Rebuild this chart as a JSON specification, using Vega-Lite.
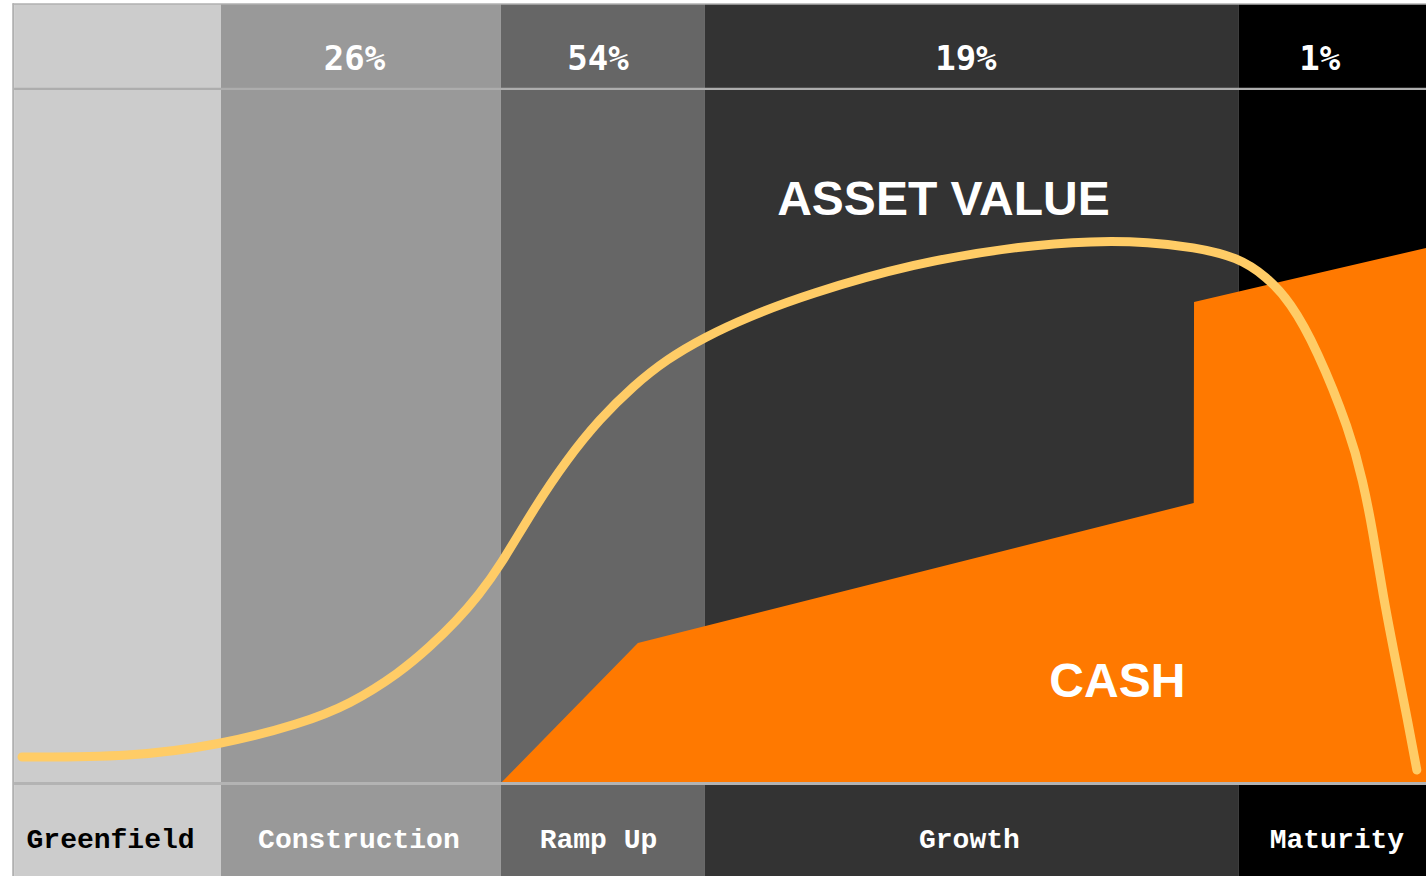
{
  "$schema": "https://vega.github.io/schema/vega-lite/v6.json",
  "width": 1426,
  "height": 876,
  "autosize": {"type": "none"},
  "padding": 0,
  "background": "white",
  "config": {"view": {"stroke": null}},
  "datasets": {
    "phases": [
      {"phase": "Greenfield", "start": 0, "end": 14.65, "share": "", "labelX": 6.83, "shareX": 7.3},
      {"phase": "Construction", "start": 14.65, "end": 34.48, "share": "26%", "labelX": 24.42, "shareX": 24.11},
      {"phase": "Ramp Up", "start": 34.48, "end": 48.93, "share": "54%", "labelX": 41.39, "shareX": 41.35},
      {"phase": "Growth", "start": 48.93, "end": 86.75, "share": "19%", "labelX": 67.66, "shareX": 67.41},
      {"phase": "Maturity", "start": 86.75, "end": 100, "share": "1%", "labelX": 93.69, "shareX": 92.48}
    ],
    "cash": [
      {"t": 34.48, "v": 0},
      {"t": 44.18, "v": 20.14},
      {"t": 83.55, "v": 40.29},
      {"t": 83.57, "v": 69.21},
      {"t": 100, "v": 76.98}
    ],
    "asset": [
      {"t": 0.56, "v": 3.74},
      {"t": 8.21, "v": 3.74},
      {"t": 14.58, "v": 5.47},
      {"t": 20.25, "v": 8.49},
      {"t": 23.79, "v": 11.3},
      {"t": 27.33, "v": 15.9},
      {"t": 29.45, "v": 19.6},
      {"t": 31.37, "v": 23.4},
      {"t": 32.9, "v": 27.0},
      {"t": 34.41, "v": 31.2},
      {"t": 36.75, "v": 39.3},
      {"t": 39.16, "v": 46.6},
      {"t": 41.49, "v": 52.4},
      {"t": 43.83, "v": 57.1},
      {"t": 46.24, "v": 61.0},
      {"t": 48.93, "v": 64.17},
      {"t": 51.9, "v": 67.0},
      {"t": 56.15, "v": 70.3},
      {"t": 63.73, "v": 74.8},
      {"t": 71.31, "v": 77.3},
      {"t": 76.41, "v": 78.0},
      {"t": 80.44, "v": 77.84},
      {"t": 83.49, "v": 77.12},
      {"t": 86.68, "v": 75.68},
      {"t": 88.73, "v": 72.81},
      {"t": 90.36, "v": 69.3},
      {"t": 92.27, "v": 62.5},
      {"t": 94.61, "v": 50.6},
      {"t": 95.53, "v": 43.5},
      {"t": 96.24, "v": 36.2},
      {"t": 96.95, "v": 27.0},
      {"t": 97.94, "v": 16.69},
      {"t": 98.65, "v": 9.5},
      {"t": 99.35, "v": 1.87}
    ],
    "notes": [
      {"text": "ASSET VALUE", "t": 65.82, "v": 81.73},
      {"text": "CASH", "t": 78.14, "v": 12.37}
    ],
    "one": [{}]
  },
  "resolve": {"scale": {"color": "independent"}},
  "layer": [
    {
      "data": {"name": "phases"},
      "mark": {"type": "rect"},
      "encoding": {
        "x": {"field": "start", "type": "quantitative", "scale": {"domain": [-1, 100], "nice": false, "zero": false}, "axis": null},
        "x2": {"field": "end"},
        "y": {"datum": 112.09, "type": "quantitative", "scale": {"domain": [-13.38, 112.66], "nice": false, "zero": false}, "axis": null},
        "y2": {"datum": -13.38},
        "color": {
          "field": "phase", "type": "nominal", "legend": null,
          "scale": {"domain": ["Greenfield", "Construction", "Ramp Up", "Growth", "Maturity"], "range": ["#cccccc", "#999999", "#666666", "#333333", "#000000"]}
        }
      }
    },
    {
      "data": {"name": "cash"},
      "mark": {"type": "area", "color": "#FF7900", "interpolate": "linear"},
      "encoding": {
        "x": {"field": "t", "type": "quantitative"},
        "y": {"field": "v", "type": "quantitative", "stack": null},
        "y2": {"datum": 0}
      }
    },
    {
      "data": {"name": "one"},
      "mark": {"type": "rule", "color": "#adadad", "strokeWidth": 2.3},
      "encoding": {"x": {"datum": 0}, "x2": {"datum": 100}, "y": {"datum": 99.88}}
    },
    {
      "data": {"name": "one"},
      "mark": {"type": "rule", "color": "#b3b3b3", "strokeWidth": 3},
      "encoding": {"x": {"datum": 0}, "x2": {"datum": 100}, "y": {"datum": -0.07}}
    },
    {
      "data": {"name": "one"},
      "mark": {"type": "rule", "color": "#b0b0b0", "strokeWidth": 1.6},
      "encoding": {"x": {"datum": -0.1}, "x2": {"datum": 100}, "y": {"datum": 112.09}}
    },
    {
      "data": {"name": "one"},
      "mark": {"type": "rule", "color": "#b0b0b0", "strokeWidth": 1.8},
      "encoding": {"x": {"datum": -0.07}, "y": {"datum": 112.2}, "y2": {"datum": -13.38}}
    },
    {
      "data": {"name": "asset"},
      "mark": {"type": "line", "color": "#FFCC66", "strokeWidth": 9, "strokeCap": "round", "strokeJoin": "round", "interpolate": "basis"},
      "encoding": {
        "x": {"field": "t", "type": "quantitative"},
        "y": {"field": "v", "type": "quantitative"}
      }
    },
    {
      "data": {"name": "phases"},
      "mark": {"type": "text", "font": "DejaVu Sans Mono", "fontWeight": "bold", "fontSize": 34, "color": "white", "align": "center", "baseline": "alphabetic"},
      "encoding": {
        "x": {"field": "shareX", "type": "quantitative"},
        "y": {"datum": 102.59},
        "text": {"field": "share"}
      }
    },
    {
      "data": {"name": "phases"},
      "mark": {"type": "text", "font": "Liberation Mono", "fontWeight": "bold", "fontSize": 28, "align": "center", "baseline": "alphabetic"},
      "encoding": {
        "x": {"field": "labelX", "type": "quantitative"},
        "y": {"datum": -9.35},
        "text": {"field": "phase"},
        "color": {"condition": {"test": "datum.phase === 'Greenfield'", "value": "#000000"}, "value": "#ffffff"}
      }
    },
    {
      "data": {"name": "notes"},
      "mark": {"type": "text", "font": "Liberation Sans", "fontWeight": "bold", "fontSize": 48, "color": "white", "align": "center", "baseline": "alphabetic"},
      "encoding": {
        "x": {"field": "t", "type": "quantitative"},
        "y": {"field": "v", "type": "quantitative"},
        "text": {"field": "text"}
      }
    }
  ]
}
